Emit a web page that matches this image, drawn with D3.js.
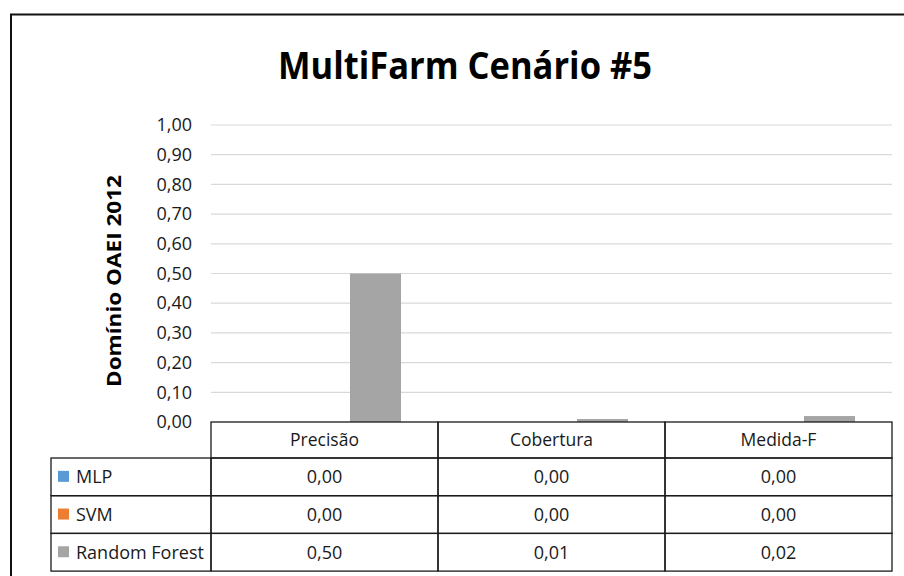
<!DOCTYPE html>
<html>
<head>
<meta charset="utf-8">
<script src="https://cdn.jsdelivr.net/npm/d3@7"></script>
<style>
  html, body { margin: 0; padding: 0; background: #fff; }
  svg { display: block; }
</style>
</head>
<body>
<svg id="chart" width="904" height="576"></svg>
<script>
// Chart data
const categories = ["Precisão", "Cobertura", "Medida-F"];
const seriesNames = ["MLP", "SVM", "Random Forest"];
const mlpValues = [0.00, 0.00, 0.00];
const svmValues = [0.00, 0.00, 0.00];
const rfValues = [0.50, 0.01, 0.02];
const yTicks = [0, 0.1, 0.2, 0.3, 0.4, 0.5, 0.6, 0.7, 0.8, 0.9, 1.0];
const seriesColors = ["#5b9bd5", "#ed7d31", "#a5a5a5"];
const titleText = "MultiFarm Cenário #5";
const yTitleText = "Domínio OAEI 2012";

const seriesValues = [mlpValues, svmValues, rfValues];

const locale = d3.formatLocale({ decimal: ",", thousands: ".", grouping: [3], currency: ["", ""] });
const fmt = locale.format(".2f");

const svg = d3.select("#chart");
const font = "'Open Sans', 'Noto Sans', sans-serif";

// Outer frame
svg.append("rect")
  .attr("x", 11).attr("y", 14.5)
  .attr("width", 920).attr("height", 600)
  .attr("fill", "none").attr("stroke", "#111").attr("stroke-width", 2);

// Title
svg.append("text")
  .attr("x", 465).attr("y", 79)
  .attr("text-anchor", "middle")
  .attr("font-family", font).attr("font-weight", 700).attr("font-size", 37)
  .attr("textLength", 374).attr("lengthAdjust", "spacingAndGlyphs")
  .attr("fill", "#000")
  .text(titleText);

// Plot geometry
const plotLeft = 211, plotRight = 892, plotTop = 125, plotBottom = 422;

const y = d3.scaleLinear().domain([0, 1]).range([plotBottom, plotTop]);
const x = d3.scaleBand().domain(categories).range([plotLeft, plotRight]).padding(0);
const xs = d3.scaleBand().domain(seriesNames).range([0, x.bandwidth()])
  .paddingInner(0).paddingOuter(0.725);

// Gridlines
svg.append("g").selectAll("line")
  .data(yTicks.filter(d => d > 0))
  .join("line")
  .attr("x1", plotLeft).attr("x2", plotRight)
  .attr("y1", d => y(d)).attr("y2", d => y(d))
  .attr("stroke", "#d9d9d9").attr("stroke-width", 1.2);

// Y axis labels
const yAxis = d3.axisLeft(y).tickValues(yTicks).tickFormat(fmt).tickSize(0).tickPadding(19);
const yg = svg.append("g").attr("transform", `translate(${plotLeft},0)`).call(yAxis);
yg.select(".domain").remove();
yg.selectAll("text")
  .attr("font-family", font).attr("font-size", 18).attr("fill", "#1a1a1a");

// Y axis title
svg.append("text")
  .attr("transform", "translate(121,281) rotate(-90)")
  .attr("text-anchor", "middle")
  .attr("font-family", font).attr("font-weight", 700).attr("font-size", 20)
  .attr("textLength", 212).attr("lengthAdjust", "spacingAndGlyphs")
  .attr("fill", "#000")
  .text(yTitleText);

// Bars
const barData = [];
seriesNames.forEach((s, si) => {
  categories.forEach((c, ci) => {
    barData.push({ series: s, cat: c, value: seriesValues[si][ci], color: seriesColors[si] });
  });
});
svg.append("g").selectAll("rect")
  .data(barData)
  .join("rect")
  .attr("x", d => x(d.cat) + xs(d.series))
  .attr("y", d => y(d.value))
  .attr("width", xs.bandwidth())
  .attr("height", d => y(0) - y(d.value))
  .attr("fill", d => d.color);

// Data table
const headerBottom = 458;
const rowHeight = 37.7;
const tableLeft = 51;
const tableStroke = "#1a1a1a";
const tg = svg.append("g");

// Header cells
tg.selectAll("rect.hdr")
  .data(categories)
  .join("rect").attr("class", "hdr")
  .attr("x", d => x(d)).attr("y", plotBottom)
  .attr("width", x.bandwidth()).attr("height", headerBottom - plotBottom)
  .attr("fill", "none").attr("stroke", tableStroke).attr("stroke-width", 1.3);
tg.selectAll("text.hdr")
  .data(categories)
  .join("text").attr("class", "hdr")
  .attr("x", d => x(d) + x.bandwidth() / 2)
  .attr("y", (plotBottom + headerBottom) / 2)
  .attr("dy", "0.35em")
  .attr("text-anchor", "middle")
  .attr("font-family", font).attr("font-size", 17.5).attr("fill", "#1a1a1a")
  .text(d => d);

// Series rows
seriesNames.forEach((s, si) => {
  const top = headerBottom + si * rowHeight;
  const mid = top + rowHeight / 2;
  tg.append("rect")
    .attr("x", tableLeft).attr("y", top)
    .attr("width", plotLeft - tableLeft).attr("height", rowHeight)
    .attr("fill", "none").attr("stroke", tableStroke).attr("stroke-width", 1.3);
  tg.append("rect")
    .attr("x", 58).attr("y", mid - 6)
    .attr("width", 11).attr("height", 11)
    .attr("fill", seriesColors[si]);
  tg.append("text")
    .attr("x", 76).attr("y", mid).attr("dy", "0.35em")
    .attr("font-family", font).attr("font-size", 18).attr("fill", "#1a1a1a")
    .text(s);
  categories.forEach((c, ci) => {
    tg.append("rect")
      .attr("x", x(c)).attr("y", top)
      .attr("width", x.bandwidth()).attr("height", rowHeight)
      .attr("fill", "none").attr("stroke", tableStroke).attr("stroke-width", 1.3);
    tg.append("text")
      .attr("x", x(c) + x.bandwidth() / 2).attr("y", mid).attr("dy", "0.35em")
      .attr("text-anchor", "middle")
      .attr("font-family", font).attr("font-size", 18).attr("fill", "#1a1a1a")
      .text(fmt(seriesValues[si][ci]));
  });
});
</script>
</body>
</html>
